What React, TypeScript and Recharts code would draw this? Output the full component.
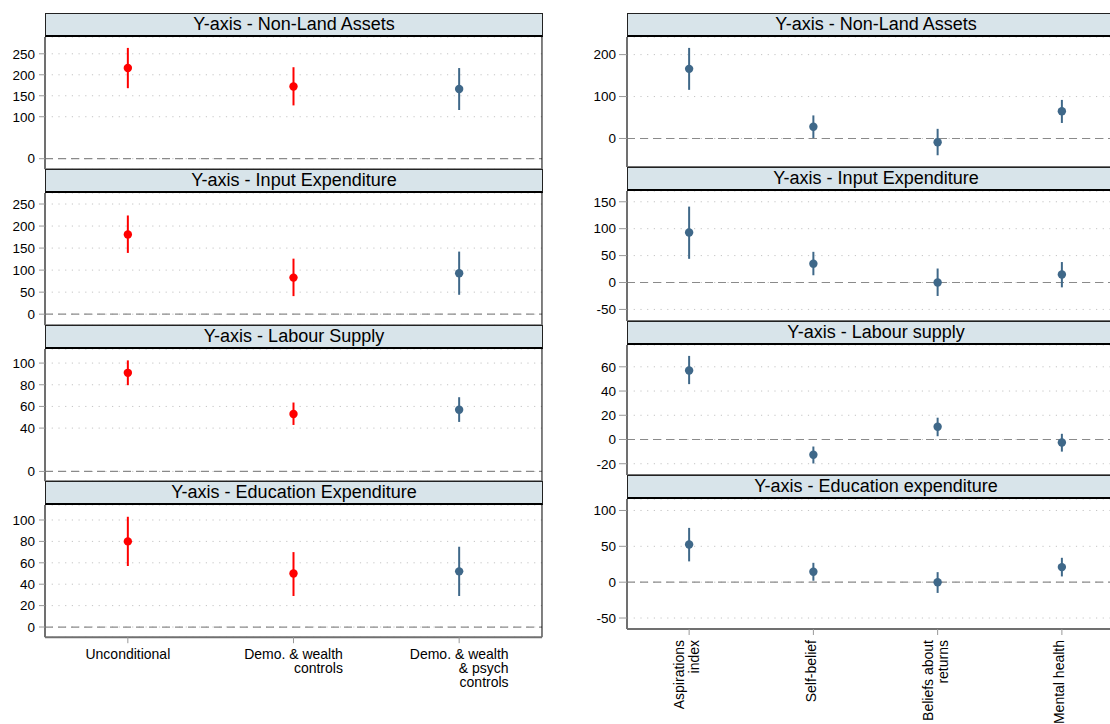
import React from "react";
import {
  ScatterChart,
  Scatter,
  XAxis,
  YAxis,
  CartesianGrid,
  ErrorBar,
  ReferenceLine,
} from "recharts";

// x categories (each entry = lines of the tick label)
const leftCategories = [
  ["Unconditional"],
  ["Demo. & wealth", "controls"],
  ["Demo. & wealth", "& psych", "controls"],
];
const rightCategories = [
  ["Aspirations", "index"],
  ["Self-belief"],
  ["Beliefs about", "returns"],
  ["Mental health"],
];

// left column: estimates and 95% CI
const leftAssetsEst = [216, 172, 166];
const leftAssetsLo = [168, 127, 116];
const leftAssetsHi = [264, 218, 216];
const leftAssetsTicks = [0, 100, 150, 200, 250];

const leftInputEst = [181, 83, 93];
const leftInputLo = [139, 41, 44];
const leftInputHi = [224, 126, 142];
const leftInputTicks = [0, 50, 100, 150, 200, 250];

const leftLabourEst = [91, 53, 57];
const leftLabourLo = [79.6, 42.9, 45.7];
const leftLabourHi = [102.5, 63.6, 68.5];
const leftLabourTicks = [0, 40, 60, 80, 100];

const leftEducEst = [80, 50, 52];
const leftEducLo = [57, 29, 29];
const leftEducHi = [103, 70, 75];
const leftEducTicks = [0, 20, 40, 60, 80, 100];

// right column: estimates and 95% CI
const rightAssetsEst = [166, 28, -9, 65];
const rightAssetsLo = [116, 1, -40, 37];
const rightAssetsHi = [216, 55, 23, 92];
const rightAssetsTicks = [0, 100, 200];

const rightInputEst = [93, 35, 0, 15];
const rightInputLo = [44, 13.5, -25, -9];
const rightInputHi = [141, 57, 26, 38];
const rightInputTicks = [-50, 0, 50, 100, 150];

const rightLabourEst = [57, -12.6, 10.5, -2.5];
const rightLabourLo = [45.7, -19.8, 2.7, -10];
const rightLabourHi = [69, -5.8, 18, 4.7];
const rightLabourTicks = [-20, 0, 20, 40, 60];

const rightEducEst = [52.5, 14.5, 0, 21];
const rightEducLo = [29, 2, -15, 8];
const rightEducHi = [75.7, 27, 14, 34];
const rightEducTicks = [-50, 0, 50, 100];

const FONT = "'Liberation Sans', Arial, Helvetica, sans-serif";
const RED = "#ff0000";
const BLUE = "#3f6889";
const HEADER_BG = "#d8e4ea";
const AXIS_GRAY = "#707070";
const XLABEL_SIZE = 14;

let ctx: CanvasRenderingContext2D | null = null;
function textWidth(s: string, size: number) {
  if (!ctx) ctx = document.createElement("canvas").getContext("2d");
  if (!ctx) return s.length * size * 0.52;
  ctx.font = `${size}px 'Liberation Sans', Arial`;
  return ctx.measureText(s).width;
}

function toPoints(est: number[], lo: number[], hi: number[], idx: number[]) {
  return idx.map((i) => ({
    x: i + 1,
    y: est[i],
    err: [est[i] - lo[i], hi[i] - est[i]],
  }));
}

const LeftTick = (props: any) => {
  const { x, y, payload } = props;
  const lines = leftCategories[Math.round(payload.value) - 1] || [];
  const w = Math.max(...lines.map((l) => textWidth(l, XLABEL_SIZE)));
  const xe = x + w / 2;
  return (
    <text x={xe} y={y} textAnchor="end" fontSize={XLABEL_SIZE} fill="#000" fontFamily={FONT}>
      {lines.map((l, i) => (
        <tspan key={i} x={xe} dy={i === 0 ? 13.5 : 14}>
          {l}
        </tspan>
      ))}
    </text>
  );
};

const RightTick = (props: any) => {
  const { x, y, payload } = props;
  const lines = rightCategories[Math.round(payload.value) - 1] || [];
  const first = 2.5 - ((lines.length - 1) * 15) / 2;
  return (
    <g transform={`translate(${x},${y + 3}) rotate(-90)`}>
      <text x={0} y={0} textAnchor="end" fontSize={XLABEL_SIZE} fill="#000" fontFamily={FONT}>
        {lines.map((l, i) => (
          <tspan key={i} x={0} dy={i === 0 ? first : 15}>
            {l}
          </tspan>
        ))}
      </text>
    </g>
  );
};

type PanelDef = {
  title: string;
  est: number[];
  lo: number[];
  hi: number[];
  ticks: number[];
  domain: [number, number];
};

const leftPanels: PanelDef[] = [
  { title: "Y-axis - Non-Land Assets", est: leftAssetsEst, lo: leftAssetsLo, hi: leftAssetsHi, ticks: leftAssetsTicks, domain: [-25, 290] },
  { title: "Y-axis - Input Expenditure", est: leftInputEst, lo: leftInputLo, hi: leftInputHi, ticks: leftInputTicks, domain: [-25, 275] },
  { title: "Y-axis - Labour Supply", est: leftLabourEst, lo: leftLabourLo, hi: leftLabourHi, ticks: leftLabourTicks, domain: [-9, 113] },
  { title: "Y-axis - Education Expenditure", est: leftEducEst, lo: leftEducLo, hi: leftEducHi, ticks: leftEducTicks, domain: [-9.5, 114] },
];

const rightPanels: PanelDef[] = [
  { title: "Y-axis - Non-Land Assets", est: rightAssetsEst, lo: rightAssetsLo, hi: rightAssetsHi, ticks: rightAssetsTicks, domain: [-68, 242] },
  { title: "Y-axis - Input Expenditure", est: rightInputEst, lo: rightInputLo, hi: rightInputHi, ticks: rightInputTicks, domain: [-71.5, 170] },
  { title: "Y-axis - Labour supply", est: rightLabourEst, lo: rightLabourLo, hi: rightLabourHi, ticks: rightLabourTicks, domain: [-29.3, 78] },
  { title: "Y-axis - Education expenditure", est: rightEducEst, lo: rightEducLo, hi: rightEducHi, ticks: rightEducTicks, domain: [-65.3, 116] },
];

function dot(color: string) {
  return (p: any) => <circle cx={p.cx} cy={p.cy} r={4.2} fill={color} />;
}

function Panel({
  def,
  left,
  top,
  axisW,
  plotW,
  headerH,
  plotH,
  nCats,
  redIdx,
  blueIdx,
  bottom,
  side,
}: {
  def: PanelDef;
  left: number;
  top: number;
  axisW: number;
  plotW: number;
  headerH: number;
  plotH: number;
  nCats: number;
  redIdx: number[];
  blueIdx: number[];
  bottom: boolean;
  side: "left" | "right";
}) {
  const xAxisH = bottom ? 724 - (top + headerH + plotH) : 2;
  const catTicks = Array.from({ length: nCats }, (_, i) => i + 1);
  const red = toPoints(def.est, def.lo, def.hi, redIdx);
  const blue = toPoints(def.est, def.lo, def.hi, blueIdx);
  return (
    <>
      <div
        style={{
          position: "absolute",
          left: left + axisW,
          top,
          width: plotW + 1,
          height: headerH,
          boxSizing: "border-box",
          background: HEADER_BG,
          borderTop: "1px solid #222",
          borderLeft: "1px solid #222",
          borderRight: "1px solid #222",
          borderBottom: "2.5px solid #000",
          fontSize: 18,
          lineHeight: `${headerH - 3}px`,
          textAlign: "center",
          color: "#000",
          fontFamily: FONT,
        }}
      >
        {def.title}
      </div>
      <div style={{ position: "absolute", left, top: top + headerH }}>
        <ScatterChart
          width={axisW + plotW + 2}
          height={plotH + xAxisH}
          margin={{ top: 0, right: 2, bottom: 0, left: 0 }}
        >
          <CartesianGrid
            horizontal
            vertical={false}
            stroke="#c4c4c4"
            strokeDasharray="1.2 5.5"
          />
          <XAxis
            type="number"
            dataKey="x"
            domain={[0.5, nCats + 0.5]}
            ticks={catTicks}
            allowDataOverflow
            height={xAxisH}
            axisLine={{ stroke: AXIS_GRAY, strokeWidth: 2 }}
            tickLine={bottom ? { stroke: "#999" } : false}
            tickSize={6}
            tick={bottom ? (side === "left" ? <LeftTick /> : <RightTick />) : false}
            interval={0}
          />
          <YAxis
            type="number"
            dataKey="y"
            domain={def.domain}
            ticks={def.ticks}
            allowDataOverflow
            width={axisW}
            axisLine={{ stroke: AXIS_GRAY, strokeWidth: 2 }}
            tickLine={{ stroke: "#999" }}
            tickSize={side === "left" ? 6 : 8}
            tickMargin={side === "left" ? 4 : 3}
            tick={{ fontSize: 13.5, fill: "#000", fontFamily: FONT }}
            interval={0}
          />
          <ReferenceLine y={0} stroke="#8a8a8a" strokeWidth={1.2} strokeDasharray="8 5" />
          <ReferenceLine x={nCats + 0.5} stroke="#000" strokeWidth={1} />
          {red.length > 0 && (
            <Scatter data={red} fill={RED} shape={dot(RED)} isAnimationActive={false}>
              <ErrorBar dataKey="err" direction="y" width={0} stroke={RED} strokeWidth={2} />
            </Scatter>
          )}
          {blue.length > 0 && (
            <Scatter data={blue} fill={BLUE} shape={dot(BLUE)} isAnimationActive={false}>
              <ErrorBar dataKey="err" direction="y" width={0} stroke={BLUE} strokeWidth={2} />
            </Scatter>
          )}
        </ScatterChart>
      </div>
    </>
  );
}

export default function App() {
  return (
    <div
      style={{
        position: "fixed",
        left: 0,
        top: 0,
        width: 1110,
        height: 724,
        overflow: "hidden",
        background: "#fff",
        fontFamily: FONT,
      }}
    >
      {leftPanels.map((def, i) => (
        <Panel
          key={"l" + i}
          def={def}
          left={0}
          top={12.5 + i * 156.2}
          axisW={45}
          plotW={497}
          headerH={24}
          plotH={132.2}
          nCats={3}
          redIdx={[0, 1]}
          blueIdx={[2]}
          bottom={i === leftPanels.length - 1}
          side="left"
        />
      ))}
      {rightPanels.map((def, i) => (
        <Panel
          key={"r" + i}
          def={def}
          left={560}
          top={12.5 + i * 154}
          axisW={67}
          plotW={497}
          headerH={24}
          plotH={130}
          nCats={4}
          redIdx={[]}
          blueIdx={[0, 1, 2, 3]}
          bottom={i === rightPanels.length - 1}
          side="right"
        />
      ))}
    </div>
  );
}
